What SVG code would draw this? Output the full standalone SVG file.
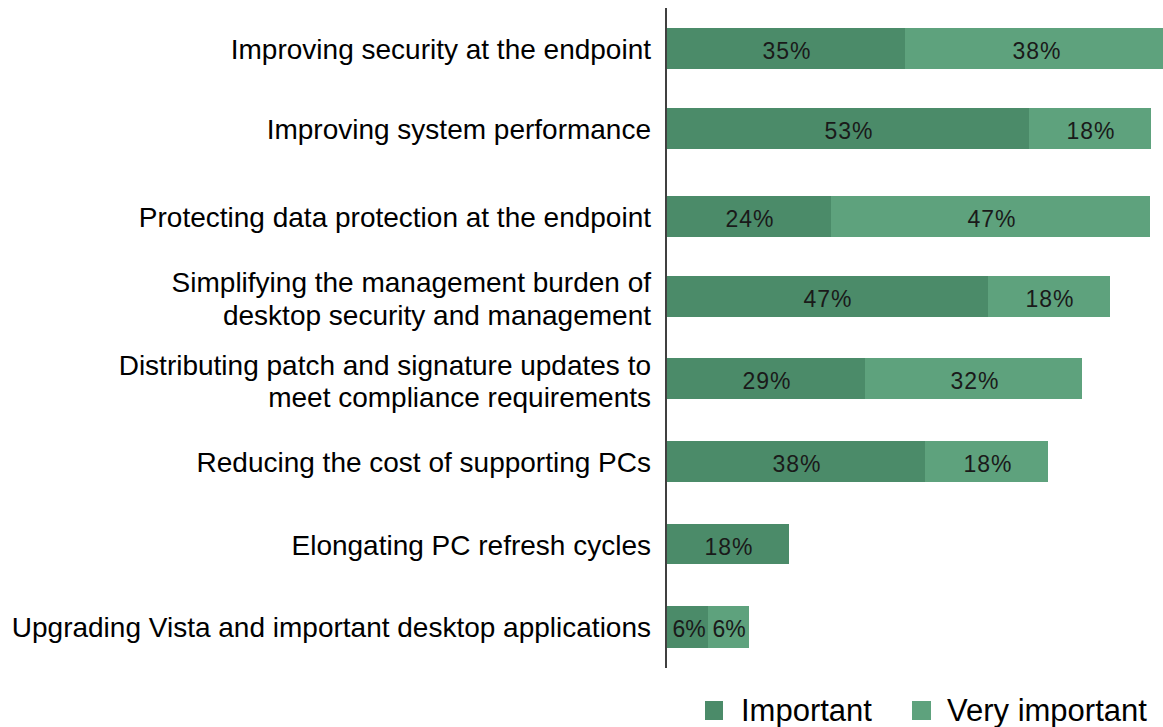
<svg xmlns="http://www.w3.org/2000/svg" width="1163" height="727" viewBox="0 0 1163 727">
<style>
.lbl{font-family:"Liberation Sans",Arial,sans-serif;font-size:28px;fill:#000;text-anchor:end}
.pct{font-family:"Liberation Sans",Arial,sans-serif;font-size:23px;fill:#1a1a1a;text-anchor:middle;letter-spacing:1px}
.leg{font-family:"Liberation Sans",Arial,sans-serif;font-size:31px;fill:#000}
.imp{fill:#4b8b69}
.vimp{fill:#5ea27d}
</style>
<rect width="1163" height="727" fill="#fff"/>
<g id="bar1"><rect class="imp" x="667" y="28" width="238" height="41"/><rect class="vimp" x="905" y="28" width="260" height="41"/><text class="pct" x="787" y="59">35%</text><text class="pct" x="1037" y="59">38%</text><text class="lbl" x="651" y="59">Improving security at the endpoint</text></g>
<g id="bar2"><rect class="imp" x="667" y="108" width="362" height="41"/><rect class="vimp" x="1029" y="108" width="122" height="41"/><text class="pct" x="849" y="139">53%</text><text class="pct" x="1091" y="139">18%</text><text class="lbl" x="651" y="139">Improving system performance</text></g>
<g id="bar3"><rect class="imp" x="667" y="196" width="164" height="41"/><rect class="vimp" x="831" y="196" width="319" height="41"/><text class="pct" x="750" y="227">24%</text><text class="pct" x="992" y="227">47%</text><text class="lbl" x="651" y="227">Protecting data protection at the endpoint</text></g>
<g id="bar4"><rect class="imp" x="667" y="276" width="321" height="41"/><rect class="vimp" x="988" y="276" width="122" height="41"/><text class="pct" x="828" y="307">47%</text><text class="pct" x="1050" y="307">18%</text><text class="lbl" x="651" y="292">Simplifying the management burden of</text><text class="lbl" x="651" y="325">desktop security and management</text></g>
<g id="bar5"><rect class="imp" x="667" y="358" width="198" height="41"/><rect class="vimp" x="865" y="358" width="217" height="41"/><text class="pct" x="767" y="389">29%</text><text class="pct" x="975" y="389">32%</text><text class="lbl" x="651" y="375">Distributing patch and signature updates to</text><text class="lbl" x="651" y="407">meet compliance requirements</text></g>
<g id="bar6"><rect class="imp" x="667" y="441" width="258" height="41"/><rect class="vimp" x="925" y="441" width="123" height="41"/><text class="pct" x="797" y="472">38%</text><text class="pct" x="988" y="472">18%</text><text class="lbl" x="651" y="472">Reducing the cost of supporting PCs</text></g>
<g id="bar7"><rect class="imp" x="667" y="524" width="122" height="40"/><text class="pct" x="729" y="555">18%</text><text class="lbl" x="651" y="555">Elongating PC refresh cycles</text></g>
<g id="bar8"><rect class="imp" x="667" y="606" width="41" height="42"/><rect class="vimp" x="708" y="606" width="41" height="42"/><text class="pct" x="689" y="637" style="letter-spacing:0">6%</text><text class="pct" x="729" y="637" style="letter-spacing:0">6%</text><text class="lbl" x="651" y="637">Upgrading Vista and important desktop applications</text></g>
<g id="connectors"><line x1="666" y1="8" x2="666" y2="668" stroke="#000" stroke-width="1.5"/></g>
<g id="legend"><rect class="imp" x="705" y="701" width="18" height="19"/><text class="leg" x="741" y="721">Important</text><rect class="vimp" x="912" y="701" width="19" height="19"/><text class="leg" x="947" y="721">Very important</text></g>
</svg>
